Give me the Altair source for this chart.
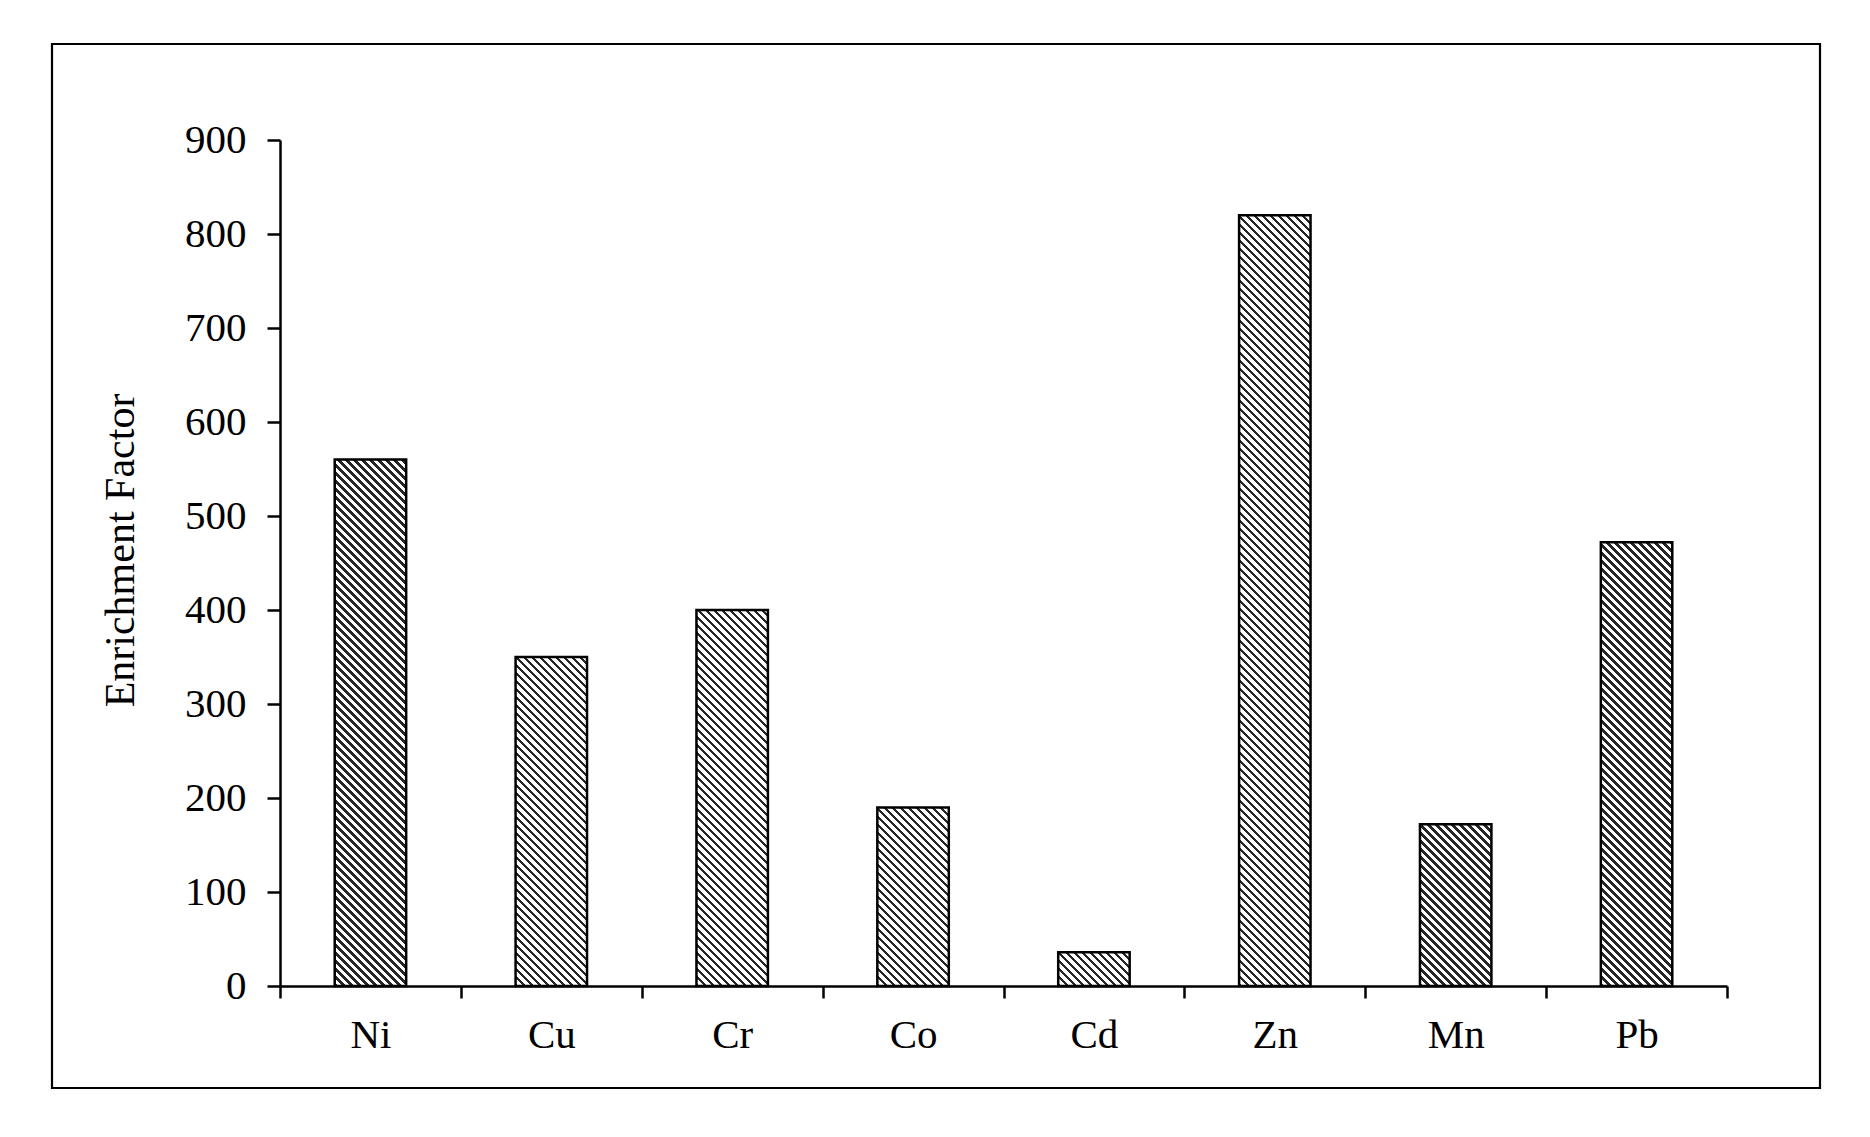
import altair as alt
import pandas as pd

# ---- data ----
elements = ["Ni", "Cu", "Cr", "Co", "Cd", "Zn", "Mn", "Pb"]
enrichment = [560, 350, 400, 190, 36, 820, 172, 472]
y_ticks = [0, 100, 200, 300, 400, 500, 600, 700, 800, 900]

df = pd.DataFrame({"element": elements, "ef": enrichment})

# ---- layout ----
PLOT_W = 1447
PLOT_H = 846
Y_MAX = 900
BAND_FRAC = 0.395
FONT = "Liberation Serif"

# hatch styling (diagonal "\\\" lines)
PERIOD = 8.0      # horizontal spacing of hatch lines, px
DARK = 3.4        # dark part of each period, px
DARK_COL = "#262626"
LIGHT_COL = "#ffffff"


def hatch_gradient(value):
    """Linear gradient (bbox units) that paints 45-degree stripes on a bar."""
    w = BAND_FRAC * PLOT_W / len(elements)
    h = max(value * PLOT_H / Y_MAX, 1.0)
    L = w + h
    k = (w + h) / (w * w + h * h)
    stops = []
    n = int(L / PERIOD) + 2
    for i in range(n):
        a = i * PERIOD / L
        b = (i * PERIOD + DARK) / L
        if a > 1:
            break
        b = min(b, 1.0)
        stops.append({"offset": a, "color": LIGHT_COL})
        stops.append({"offset": a, "color": DARK_COL})
        stops.append({"offset": b, "color": DARK_COL})
        stops.append({"offset": b, "color": LIGHT_COL})
    stops.append({"offset": 1.0, "color": LIGHT_COL})
    return {
        "gradient": "linear",
        "x1": 0, "y1": 1,
        "x2": k * w, "y2": 1 - k * h,
        "stops": stops,
    }


x_enc = alt.X(
    "element:N",
    sort=elements,
    scale=alt.Scale(domain=elements, paddingInner=0, paddingOuter=0),
    axis=alt.Axis(
        title=None,
        labelAngle=0,
        labelFont=FONT,
        labelFontSize=41,
        labelColor="#000000",
        labelBaseline="alphabetic",
        labelPadding=49,
        tickBand="extent",
        tickSize=12,
        tickWidth=2.5,
        tickColor="#000000",
        domainColor="#000000",
        domainWidth=2.5,
        grid=False,
    ),
)
y_enc = alt.Y(
    "ef:Q",
    scale=alt.Scale(domain=[0, Y_MAX], nice=False),
    axis=alt.Axis(
        title="Enrichment Factor",
        values=y_ticks,
        labelFont=FONT,
        labelFontSize=41,
        labelColor="#000000",
        labelPadding=21,
        tickSize=13,
        tickWidth=2.5,
        tickColor="#000000",
        domainColor="#000000",
        domainWidth=2.5,
        grid=False,
        titleFont=FONT,
        titleFontSize=42,
        titleFontWeight="normal",
        titleColor="#000000",
        titleX=-147,
        titleY=410,
        titleAlign="center",
        titleBaseline="alphabetic",
        titleAngle=270,
    ),
)

base = alt.Chart(df).encode(x=x_enc, y=y_enc)

layers = []
for name, val in zip(elements, enrichment):
    layers.append(
        base.transform_filter(alt.datum.element == name).mark_bar(
            fill=hatch_gradient(val),
            stroke="#000000",
            strokeWidth=2.5,
            width={"band": BAND_FRAC},
        )
    )

frame = alt.Chart(pd.DataFrame({"f": [0]})).mark_rect(
    fillOpacity=0, stroke="#000000", strokeWidth=2.2
).encode(
    x=alt.value(-228), x2=alt.value(1540),
    y=alt.value(-96), y2=alt.value(948),
)

chart = alt.layer(*layers, frame).properties(
    width=PLOT_W,
    height=PLOT_H,
    autosize=alt.AutoSizeParams(type="none"),
    padding={"left": 272, "top": 132, "right": 110, "bottom": 110},
    background="#ffffff",
).configure_view(strokeWidth=0)

chart.save("out.html", embed_options={"renderer": "svg", "actions": False})
